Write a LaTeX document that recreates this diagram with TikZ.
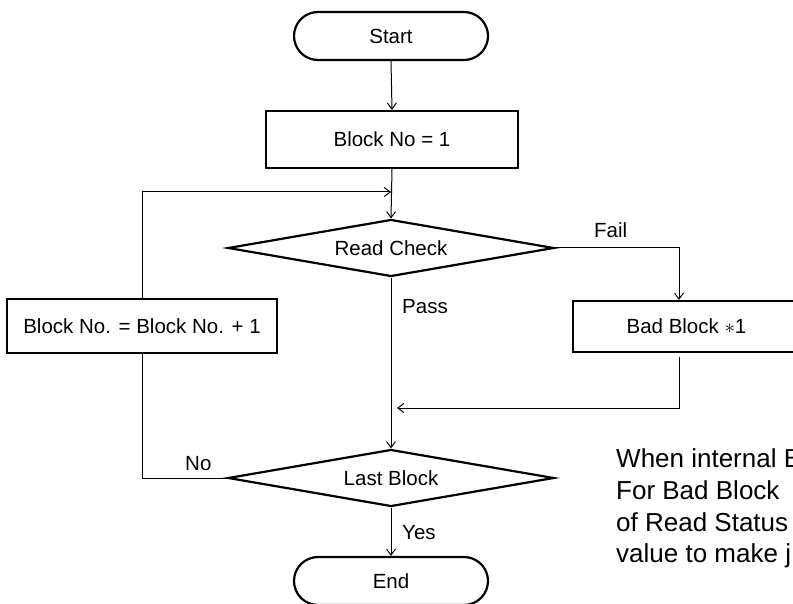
\documentclass[tikz,border=0pt]{standalone}
\usepackage{fontspec}
\setmainfont{Liberation Sans}
\usetikzlibrary{shapes.geometric,arrows.meta}
\begin{document}
\begin{tikzpicture}[x=1pt,y=-1pt,
  every node/.style={font=\fontsize{20.5}{24}\selectfont, inner sep=0pt},
  term/.style={draw, line width=2.2pt, rounded corners=24pt, minimum width=194pt, minimum height=48pt},
  procbox/.style={draw, line width=2.2pt, rectangle},
  decide/.style={draw, line width=2.2pt, diamond, aspect=5.7, minimum width=326pt, minimum height=57pt},
  conn/.style={line width=1pt},
  arr/.style={conn, -{Straight Barb[length=6pt,width=9pt]}},
  lbl/.style={anchor=base west},
  note/.style={anchor=base west, font=\fontsize{26}{32}\selectfont}]
\useasboundingbox (0,0) rectangle (793,604);
\clip (0,0) rectangle (793,604);
% nodes
\node[term] (start) at (391,36) {Start};
\node[procbox, minimum width=252pt, minimum height=57pt] (init) at (392,139.5) {Block No = 1};
\node[decide] (check) at (391,248) {Read Check};
\node[procbox, minimum width=227pt, minimum height=51pt] (bad) at (686.5,326.5) {Bad Block $\ast$1};
\node[procbox, minimum width=270pt, minimum height=54pt] (inc) at (142,326) {Block No. = Block No. + 1};
\node[decide] (last) at (391,478) {Last Block};
\node[term] (end) at (391,581) {End};
% coordinates
\coordinate (loop) at (391,192);
\coordinate (loopl) at (142,192);
\coordinate (failc) at (679,248);
\coordinate (badout) at (679,357);
\coordinate (badc) at (679,408);
\coordinate (join) at (397,408);
\coordinate (noc) at (142,478);
% connectors
\draw[arr] (start.south) -- (init.north);
\draw[arr] (init.south) -- (check.north);
\draw[arr] (inc.north) -- (loopl) -- (loop);
\draw[arr] (check.east) -- (failc) -- (failc |- bad.north);
\draw[arr] (badout) -- (badc) -- (join);
\draw[arr] (check.south) -- (last.north);
\draw[conn] (last.west) -- (noc) -- (inc.south);
\draw[arr] (last.south) -- (end.north);
% labels
\node[lbl] (lfail) at (594,238) {Fail};
\node[lbl] (lpass) at (402,313) {Pass};
\node[lbl] (lno) at (185,470) {No};
\node[lbl] (lyes) at (402,539) {Yes};
% note
\node[note] (n1) at (616,467) {When internal B};
\node[note] (n2) at (616,499) {For Bad Block};
\node[note] (n3) at (616,531) {of Read Status};
\node[note] (n4) at (616,562) {value to make j};
\end{tikzpicture}
\end{document}
